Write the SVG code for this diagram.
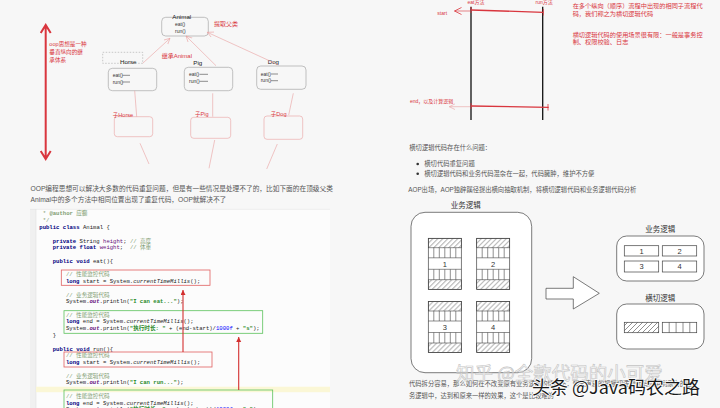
<svg xmlns="http://www.w3.org/2000/svg" width="720" height="408" viewBox="0 0 720 408">
<defs>
<style>
text{font-family:"Liberation Sans","Noto Sans CJK SC",sans-serif}
.red{fill:#d9363e}
.p{font-size:6.7px;fill:#555}
.pr{font-size:6.3px;fill:#555}
.gbox{fill:none;stroke:#a8a8a8;stroke-width:0.7}
.pbox{fill:none;stroke:#eaa0a0;stroke-width:0.6}
.lbl{font-size:6.2px;fill:#222}
.m{font-size:5px;fill:#333}
.pink{stroke:#eaa0a0;stroke-width:0.6;fill:none}
.rs{font-size:5.6px}
.code{font-family:"Liberation Mono","Noto Sans CJK SC",monospace;font-size:5.6px;fill:#222}
.kw{font-weight:bold;fill:#000080}
.cm{fill:#7f9d72}
.str{font-weight:bold;fill:#2a8a2a}
.fld{fill:#660e7a}
.it{font-style:italic}
.num{fill:#0000ff}
.dg{fill:#fff;stroke:#444;stroke-width:0.7}
.dl{stroke:#444;stroke-width:0.6}
.bl{font-size:7.5px;fill:#333}
.blk{stroke:#111;stroke-width:1.3}
.rl{stroke:#d9363e;stroke-width:1.3}
</style>
<pattern id="hatch" patternUnits="userSpaceOnUse" width="5" height="5">
<path d="M-1,1 L1,-1 M0,5 L5,0 M4,6 L6,4" stroke="#444" stroke-width="0.6"/>
</pattern>
<marker id="oa" markerUnits="userSpaceOnUse" markerWidth="7" markerHeight="7" refX="6" refY="3" orient="auto">
<path d="M0,0 L6,3 L0,6" fill="none" stroke="#eaa0a0" stroke-width="0.6"/>
</marker>
<marker id="ra" markerUnits="userSpaceOnUse" markerWidth="8" markerHeight="8" refX="7" refY="3.5" orient="auto">
<path d="M0,0 L7,3.5 L0,7" fill="none" stroke="#d9363e" stroke-width="0.8"/>
</marker>
<marker id="fa" markerUnits="userSpaceOnUse" markerWidth="6" markerHeight="6" refX="5" refY="2.5" orient="auto">
<path d="M0,0 L5,2.5 L0,5 z" fill="#d32f2f"/>
</marker>
<symbol id="blk" overflow="visible">
<rect x="0" y="0" width="33" height="51" fill="#fff" stroke="#444" stroke-width="0.7"/>
<rect x="0" y="0" width="33" height="9.5" fill="url(#hatch)" stroke="#444" stroke-width="0.6"/>
<rect x="0" y="41.5" width="33" height="9.5" fill="url(#hatch)" stroke="#444" stroke-width="0.6"/>
<path d="M0,19.5 H33 M0,31 H33 M5.5,9.5 V19.5 M11,9.5 V19.5 M16.5,9.5 V19.5 M22,9.5 V19.5 M27.5,9.5 V19.5 M5.5,31 V41.5 M11,31 V41.5 M16.5,31 V41.5 M22,31 V41.5 M27.5,31 V41.5" stroke="#444" stroke-width="0.6"/>
</symbol>
</defs>
<rect width="720" height="408" fill="#f7f7f7"/>

<!-- top-left OOP diagram -->
<g id="oop-axis">
<path d="M45.7,26 V158 M40.7,33 L45.7,25 L50.7,33 M40.7,151 L45.7,159 L50.7,151" fill="none" stroke="#d9363e" stroke-width="2"/>
<text class="red rs" x="49.3" y="45.5">oop思想是一种</text>
<text class="red rs" x="49.3" y="53.5">垂直纵向的继</text>
<text class="red rs" x="49.3" y="61.5">承体系</text>
</g>
<g id="animal">
<rect class="gbox" x="161.7" y="17.3" width="46.6" height="18.7" rx="4"/>
<text class="lbl" x="172.3" y="19">Animal</text>
<text class="m" x="175" y="26">eat()</text>
<text class="m" x="175" y="32.5">run()</text>
<text class="red" font-size="6" x="214" y="25.5">提取父类</text>
</g>
<g id="horse">
<rect x="102.7" y="52.3" width="40" height="11" fill="none" stroke="#999" stroke-width="0.5" stroke-dasharray="1.5,1.5"/>
<text class="lbl" x="120" y="63.5">Horse</text>
<rect class="gbox" x="108.3" y="68.3" width="48.4" height="22.4" rx="4"/>
<text class="m" x="112.7" y="77">eat()</text>
<text class="m" x="112.7" y="83.8">run()</text>
<path d="M122.5,75.3 H130 M122.5,82 H130" class="dl" stroke-width="0.4"/>
<text class="red" font-size="6" x="161.7" y="58">继承Animal</text>
</g>
<g id="pig">
<text class="lbl" x="193.3" y="64.8">Pig</text>
<rect class="gbox" x="184.3" y="67.3" width="48.4" height="23.4" rx="4"/>
<text class="m" x="189" y="76">eat()</text>
<text class="m" x="189" y="83">run()</text>
<path d="M199.5,74.3 H208 M199.5,81.3 H208" class="dl" stroke-width="0.4"/>
</g>
<g id="dog">
<text class="lbl" x="267.7" y="64.4">Dog</text>
<rect class="gbox" x="256.7" y="66" width="49.3" height="23.3" rx="4"/>
<text class="m" x="260.7" y="75.7">eat()</text>
<text class="m" x="260.7" y="82.4">run()</text>
<path d="M271,74 H278 M271,80.7 H278" class="dl" stroke-width="0.4"/>
</g>
<g id="sub-horse">
<rect class="pbox" x="114.3" y="116.7" width="38.4" height="20" rx="3"/>
<text class="red rs" x="112.7" y="116.8">子Horse</text>
</g>
<g id="sub-pig">
<rect class="pbox" x="190.7" y="117.3" width="40" height="21" rx="3"/>
<text class="red rs" x="195" y="116.4">子Pig</text>
</g>
<g id="sub-dog">
<rect class="pbox" x="264" y="116" width="38.7" height="23.3" rx="3"/>
<text class="red rs" x="270.7" y="115.8">子Dog</text>
</g>
<g id="oop-connectors">
<path class="pink" d="M142.7,63.3 L170,38.3" marker-end="url(#oa)"/>
<path class="pink" d="M216,65.7 L186,36" marker-end="url(#oa)"/>
<path class="pink" d="M278.7,65 L207.3,32.3" marker-end="url(#oa)"/>
<path class="pink" d="M134.7,90.7 L136.7,116.7 M212.7,93.3 L212.7,116.7 M293.3,93.3 L288.7,115"/>
<path class="pink" d="M140,143.3 L149,164 M214.7,140 L209,168.3 M277.3,144 L266.7,169"/>
</g>

<!-- left paragraph -->
<text class="p" x="30.5" y="190.8">OOP编程思想可以解决大多数的代码重复问题，但是有一些情况是处理不了的，比如下面的在顶级父类</text>
<text class="p" x="30.5" y="201.5">Animal中的多个方法中相同位置出现了重复代码，OOP就解决不了</text>

<!-- code block -->
<g id="code">
<rect x="30" y="209" width="300" height="200" fill="#fcfcfc"/>
<rect x="30" y="209" width="6" height="200" fill="#f0f0f0"/>
<path d="M30,209.3 H330" stroke="#e2e2e2" stroke-width="0.6"/>
<path d="M36,209 V408" stroke="#e0e0e0" stroke-width="0.6"/>
<rect x="36" y="386.7" width="294" height="5.5" fill="#fbf7d6"/>
<text class="code" x="42.7" y="215.3"><tspan class="cm">* </tspan><tspan class="cm" font-weight="bold">@author</tspan><tspan class="cm"> 应癫</tspan></text>
<text class="code cm" x="42.7" y="222">*/</text>
<text class="code" x="39.3" y="228.7"><tspan class="kw">public class</tspan> Animal {</text>
<text class="code" x="52.7" y="242.7" xml:space="preserve"><tspan class="kw">private</tspan> String <tspan class="fld">height</tspan>; <tspan class="cm">// 高度</tspan></text>
<text class="code" x="52.7" y="249.3" xml:space="preserve"><tspan class="kw">private float</tspan> <tspan class="fld">weight</tspan>;  <tspan class="cm">// 体重</tspan></text>
<text class="code" x="52.7" y="262.7"><tspan class="kw">public void</tspan> eat(){</text>
<text class="code cm" x="66" y="276.3">// 性能监控代码</text>
<text class="code" x="66" y="283"><tspan class="kw">long</tspan> start = System.<tspan class="it">currentTimeMillis</tspan>();</text>
<text class="code cm" x="66" y="296.7">// 业务逻辑代码</text>
<text class="code" x="66" y="303.3">System.<tspan class="fld it" font-weight="bold">out</tspan>.println(<tspan class="str">"I can eat..."</tspan>);</text>
<text class="code cm" x="66" y="317">// 性能监控代码</text>
<text class="code" x="66" y="323.3"><tspan class="kw">long</tspan> end = System.<tspan class="it">currentTimeMillis</tspan>();</text>
<text class="code" x="66" y="330.3">System.<tspan class="fld it" font-weight="bold">out</tspan>.println(<tspan class="str">"执行时长: "</tspan> + (end-start)/<tspan class="num">1000f</tspan> + <tspan class="str">"s"</tspan>);</text>
<text class="code" x="52.7" y="337">}</text>
<text class="code" x="52.7" y="350.7"><tspan class="kw">public void</tspan> run(){</text>
<text class="code cm" x="66" y="357.3">// 性能监控代码</text>
<text class="code" x="66" y="364"><tspan class="kw">long</tspan> start = System.<tspan class="it">currentTimeMillis</tspan>();</text>
<text class="code cm" x="66" y="377.7">// 业务逻辑代码</text>
<text class="code" x="66" y="384.3">System.<tspan class="fld it" font-weight="bold">out</tspan>.println(<tspan class="str">"I can run..."</tspan>);</text>
<text class="code cm" x="66" y="398">// 性能监控代码</text>
<text class="code" x="66" y="404.7"><tspan class="kw">long</tspan> end = System.<tspan class="it">currentTimeMillis</tspan>();</text>
<text class="code" x="66" y="411.3">System.<tspan class="fld it" font-weight="bold">out</tspan>.println(<tspan class="str">"执行时长: "</tspan> + (end-start)/<tspan class="num">1000f</tspan> + <tspan class="str">"s"</tspan>);</text>
<rect x="61.3" y="270" width="148.7" height="15.3" fill="none" stroke="#e06060" stroke-width="0.8"/>
<rect x="64" y="310.7" width="198.7" height="22.6" fill="none" stroke="#5cc25c" stroke-width="0.8"/>
<rect x="64" y="352" width="148" height="15" fill="none" stroke="#e06060" stroke-width="0.8"/>
<rect x="64" y="390" width="208.7" height="22" fill="none" stroke="#5cc25c" stroke-width="0.8"/>
</g>
<g id="code-connectors">
<path d="M183,352 V290" stroke="#d32f2f" stroke-width="1.1" marker-end="url(#fa)"/>
<path d="M238.7,390 V337" stroke="#d32f2f" stroke-width="1.1" marker-end="url(#fa)"/>
</g>

<!-- top-right cross-cutting diagram -->
<g id="flows">
<text class="red" font-size="5" x="467.5" y="4">eat方法</text>
<text class="red" font-size="5" x="535.5" y="4">run方法</text>
<path class="blk" d="M471,6.7 V120 M542.7,6.7 V120"/>
<path class="rl" d="M471,10 L543.3,12.3 M471,106 L548.7,107.3"/>
<path d="M471,7 V13 M543.3,9 V15.5 M471,103 V109 M548,104 V110.5" stroke="#d9363e" stroke-width="0.8"/>
<text class="red" font-size="5" x="437.3" y="15">start</text>
<text class="red" font-size="5" x="410" y="103">end，以及计算逻辑</text>
</g>
<g id="flow-connectors">
<path d="M470,11 H454.5" stroke="#d9363e" stroke-width="0.6" fill="none" marker-end="url(#ra)"/>
<path d="M470,106.7 H449.3" class="pink" marker-end="url(#oa)"/>
</g>
<g id="notes">
<text class="red" font-size="6.2" x="572.7" y="8">在多个纵向（顺序）流程中出现的相同子流程代</text>
<text class="red" font-size="6.2" x="572.7" y="15.5">码，我们称之为横切逻辑代码</text>
<text class="red" font-size="6.2" x="572.7" y="36.5">横切逻辑代码的使用场景很有限：一般是事务控</text>
<text class="red" font-size="6.2" x="572.7" y="44">制、权限校验、日志</text>
</g>

<!-- right paragraphs -->
<text class="pr" x="409.3" y="150">横切逻辑代码存在什么问题：</text>
<circle cx="417.7" cy="164" r="1.3" fill="#333"/>
<text class="pr" x="424.3" y="166.3">横切代码重复问题</text>
<circle cx="417.7" cy="173.7" r="1.3" fill="#333"/>
<text class="pr" x="424.3" y="176">横切逻辑代码和业务代码混杂在一起，代码臃肿，维护不方便</text>
<text class="pr" x="408.3" y="191.5">AOP出场，AOP独辟蹊径提出横向抽取机制，将横切逻辑代码和业务逻辑代码分析</text>

<!-- AOP diagram -->
<g id="business-before">
<text class="bl" x="465.8" y="207.5" text-anchor="middle">业务逻辑</text>
<rect class="dg" x="411" y="212.3" width="120.7" height="160.4" rx="14"/>
<use href="#blk" x="428.3" y="238.3"/>
<use href="#blk" x="476.7" y="238.3"/>
<use href="#blk" x="428.3" y="301.5"/>
<use href="#blk" x="476.7" y="301.5"/>
<text class="bl" x="444.8" y="266.5" text-anchor="middle" font-size="6.5">1</text>
<text class="bl" x="493.2" y="266.5" text-anchor="middle" font-size="6.5">2</text>
<text class="bl" x="444.8" y="329.7" text-anchor="middle" font-size="6.5">3</text>
<text class="bl" x="493.2" y="329.7" text-anchor="middle" font-size="6.5">4</text>
</g>
<g id="arrow-split">
<path d="M546,288.3 H573.3 V276.7 L599.3,293.3 L573.3,309 V299 H546 Z" fill="#fff" stroke="#444" stroke-width="0.7"/>
</g>
<g id="business-after">
<text class="bl" x="660.3" y="231.7" text-anchor="middle">业务逻辑</text>
<rect class="dg" x="616.7" y="236" width="87.3" height="45" rx="10"/>
<rect class="dg" x="624.3" y="245.7" width="34.4" height="10.3"/>
<rect class="dg" x="662.3" y="245.7" width="34.4" height="10.3"/>
<rect class="dg" x="624.3" y="261" width="34.4" height="11"/>
<rect class="dg" x="662.3" y="261" width="34.4" height="11"/>
<text class="bl" x="641.5" y="253.6" text-anchor="middle" font-size="6.5">1</text>
<text class="bl" x="679.5" y="253.6" text-anchor="middle" font-size="6.5">2</text>
<text class="bl" x="641.5" y="269.2" text-anchor="middle" font-size="6.5">3</text>
<text class="bl" x="679.5" y="269.2" text-anchor="middle" font-size="6.5">4</text>
</g>
<g id="crosscut-after">
<text class="bl" x="660.3" y="300.5" text-anchor="middle">横切逻辑</text>
<rect class="dg" x="616.7" y="304" width="87.3" height="45" rx="10"/>
<rect x="624.3" y="322.3" width="34.4" height="10.4" fill="url(#hatch)" stroke="#444" stroke-width="0.7"/>
<rect class="dg" x="662.3" y="322.3" width="34.4" height="10.4"/>
<path d="M669.2,322.3 V332.7 M676.1,322.3 V332.7 M683,322.3 V332.7 M689.8,322.3 V332.7" stroke="#444" stroke-width="0.6"/>
</g>

<!-- bottom text and watermarks -->
<text class="pr" x="409" y="386">代码拆分容易，那么如何在不改变原有业务逻辑的情况下，悄无声息的把横切逻辑代码应用到原有的业</text>
<text class="pr" x="409" y="398">务逻辑中，达到和原来一样的效果，这个是比较难的</text>
<text x="456" y="380" font-size="18.5" fill="#ffffff" fill-opacity="0.35" stroke="#c4c4c4" stroke-width="0.6" style="font-family:'Noto Sans CJK SC',sans-serif">知乎 @全款代码的小可爱</text>
<text x="532" y="393.5" font-size="18" fill="#1a1a1a" stroke="#ffffff" stroke-width="1.6" paint-order="stroke" style="font-family:'Noto Sans CJK SC',sans-serif">头条 @Java码农之路</text>
</svg>
